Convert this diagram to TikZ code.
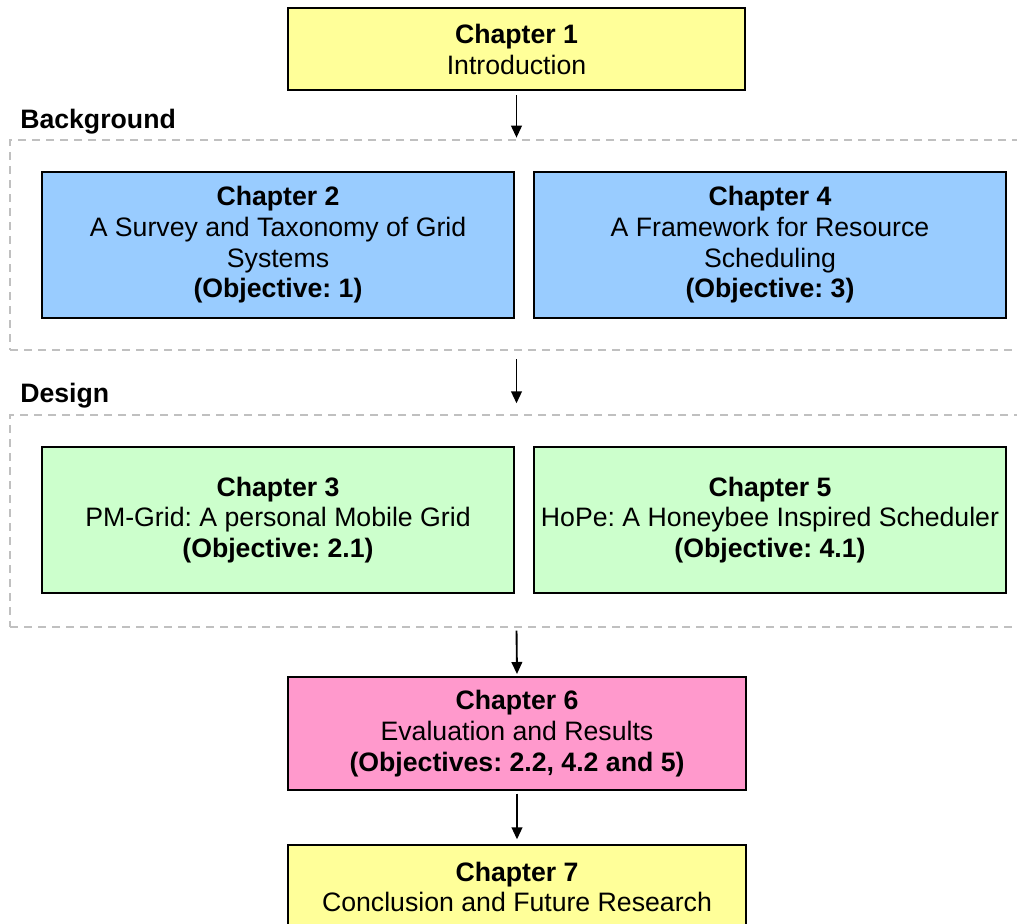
\documentclass[tikz,border=0pt]{standalone}
\usepackage{fontspec}
\setmainfont{Liberation Sans}
\usetikzlibrary{fit,arrows.meta}
\frenchspacing
\definecolor{chyellow}{HTML}{FFFF99}
\definecolor{chblue}{HTML}{99CCFF}
\definecolor{chgreen}{HTML}{CCFFCC}
\definecolor{chpink}{HTML}{FF99CC}
\definecolor{groupgray}{HTML}{C0C0C0}
\tikzset{
  chapbox/.style={draw=black, line width=1.5pt, inner sep=0pt, align=center,
    font=\fontsize{20pt}{23pt}\selectfont},
  widebox/.style={chapbox, minimum width=354pt, minimum height=109.5pt},
  groupbox/.style={draw=groupgray, line width=1.5pt, dash pattern=on 6pt off 4.5pt, inner sep=0pt},
  grouplabel/.style={anchor=west, inner sep=0pt, font=\fontsize{20pt}{23pt}\selectfont\bfseries},
  flow/.style={line width=1.4pt, -{Triangle[length=9pt,width=8pt]}}
}
\begin{document}
\begin{tikzpicture}[x=0.75pt,y=-0.75pt]
\useasboundingbox (0,0) rectangle (1017,924);
\clip (0,0) rectangle (1017,924);

% chapter groups
\node[groupbox, fit={(10,140)(1040,350)}] (bg) {};
\node[groupbox, fit={(10,415)(1040,627)}] (des) {};
\node[grouplabel] (bglabel) at (20,122) {Background};
\node[grouplabel] (deslabel) at (20,396) {Design};

% chapters
\node[chapbox, fill=chyellow, minimum width=342.75pt, minimum height=61.5pt] (ch1) at (516.5,49.5)
  {\textbf{Chapter 1}\\Introduction};
\node[widebox, fill=chblue] (ch2) at (278,245)
  {\textbf{Chapter 2}\\A Survey and Taxonomy of Grid\\Systems\\\textbf{(Objective: 1)}};
\node[widebox, fill=chblue] (ch4) at (770,245)
  {\textbf{Chapter 4}\\A Framework for Resource\\Scheduling\\\textbf{(Objective: 3)}};
\node[widebox, fill=chgreen] (ch3) at (278,520)
  {\textbf{Chapter 3}\\PM-Grid: A personal Mobile Grid\\\textbf{(Objective: 2.1)}};
\node[widebox, fill=chgreen] (ch5) at (770,520)
  {\textbf{Chapter 5}\\HoPe: A Honeybee Inspired Scheduler\\\textbf{(Objective: 4.1)}};
\node[chapbox, fill=chpink, minimum width=343.5pt, minimum height=84.75pt] (ch6) at (517,733.5)
  {\textbf{Chapter 6}\\Evaluation and Results\\\textbf{(Objectives: 2.2, 4.2 and 5)}};
\node[chapbox, fill=chyellow, minimum width=343.5pt, minimum height=63pt] (ch7) at (517,887)
  {\textbf{Chapter 7}\\Conclusion and Future Research};

% flow between stages
\draw[flow, shorten <=3pt, shorten >=1pt] (ch1.south) -- (ch1.south |- bg.north);
\draw[flow, shorten <=6pt, shorten >=8pt] (ch1.south |- bg.south) -- (ch1.south |- des.north);
\draw[flow, shorten <=2pt, shorten >=1.5pt] (ch1.south |- des.south) -- (ch6.north);
\draw[flow, shorten <=2pt, shorten >=3.5pt] (ch6.south) -- (ch7.north);
\end{tikzpicture}
\end{document}
